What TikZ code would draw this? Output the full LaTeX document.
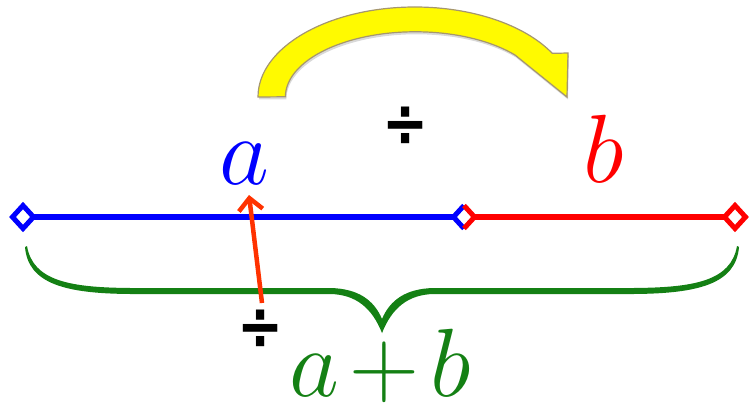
\RequirePackage{fix-cm}
\documentclass[tikz,border=0pt]{standalone}
\usepackage{fontspec}
\newfontfamily\symfont{DejaVu Sans}
\usetikzlibrary{shapes.geometric,arrows.meta,shadows,calc}
\definecolor{myblue}{RGB}{0,0,255}
\definecolor{myred}{RGB}{255,0,0}
\definecolor{mygreen}{RGB}{20,128,20}
\definecolor{arrowred}{RGB}{255,50,0}
\definecolor{yellowfill}{RGB}{255,250,0}
\definecolor{yellowedge}{RGB}{165,150,110}
\tikzset{
  bigletter/.style={inner sep=0pt, font=\fontsize{97}{97}\selectfont},
  divsign/.style={inner sep=0pt, xscale=1.1, yscale=1.35, font=\symfont\bfseries\fontsize{50}{50}\selectfont},
  segline/.style={line width=5.5pt},
  markline/.style={line width=5pt, fill=white},
  bracearm/.style={fill=mygreen},
}
\begin{document}
\begin{tikzpicture}[x=1pt,y=1pt]
\useasboundingbox (0,0) rectangle (753,-409);
% yellow curved arrow
\draw[yellowedge, line width=1.2pt, fill=yellowfill,
      drop shadow={opacity=0.3, shadow xshift=1pt, shadow yshift=-2.5pt}]
  (258,-97) arc[start angle=180, end angle=29, x radius=157, y radius=90]
  -- (568,-53) -- (567,-97) -- (515,-55)
  arc[start angle=40, end angle=180, x radius=130, y radius=65] -- cycle;
% segment
\coordinate (L) at (23,-217);
\coordinate (M) at (464,-217);
\coordinate (R) at (735,-217);
\draw[segline, myblue] (L) -- (M);
\draw[segline, myred] (M) -- (R);
\draw[markline, draw=myblue] ($(L)+(-10.5,0)$) -- ++(10.5,11.5) -- ++(10.5,-11.5) -- ++(-10.5,-11.5) -- cycle;
\draw[markline, draw=myred] ($(R)+(-10.5,0)$) -- ++(10.5,11.5) -- ++(10.5,-11.5) -- ++(-10.5,-11.5) -- cycle;
\fill[white] ($(M)+(-10.5,0)$) -- ++(10.5,11.5) -- ++(10.5,-11.5) -- ++(-10.5,-11.5) -- cycle;
\draw[myblue, line width=5pt] ($(M)+(0,11.5)$) -- ($(M)+(-10.5,0)$) -- ($(M)+(0,-11.5)$);
\draw[myred, line width=5pt] ($(M)+(0,11.5)$) -- ($(M)+(10.5,0)$) -- ($(M)+(0,-11.5)$);
% letters
\node[bigletter, text=myblue, anchor=base] (a) at (244,-185) {$a$};
\node[bigletter, text=myred, anchor=base] (b) at (604,-183) {$b$};
\node[bigletter, text=mygreen, anchor=base] (ab) at (380,-396) {$a\mskip2mu{+}\mskip2mu b$};
% division signs
\node[divsign] (d1) at (406,-127) {÷};
\node[divsign] (d2) at (261,-330) {÷};
% brace
\fill[bracearm] (27,-246) .. controls (33,-281) and (70,-287.5) .. (130,-288) -- (330,-288)
  .. controls (358,-288.5) and (374,-300) .. (382,-319) -- (382,-333)
  .. controls (372,-308) and (356,-294.5) .. (330,-294) -- (130,-294)
  .. controls (66,-293.5) and (28,-284) .. (25,-247) -- cycle;
\begin{scope}[xshift=764pt, xscale=-1]
\fill[bracearm] (27,-246) .. controls (33,-281) and (70,-287.5) .. (130,-288) -- (330,-288)
  .. controls (358,-288.5) and (374,-300) .. (382,-319) -- (382,-333)
  .. controls (372,-308) and (356,-294.5) .. (330,-294) -- (130,-294)
  .. controls (66,-293.5) and (28,-284) .. (25,-247) -- cycle;
\end{scope}
% red arrow
\coordinate (tailpt) at (262,-303);
\coordinate (headpt) at (249,-195);
\draw[arrowred, line width=4.5pt, -{Straight Barb[length=12pt,width=24pt]}] (tailpt) -- (headpt);
\end{tikzpicture}
\end{document}
